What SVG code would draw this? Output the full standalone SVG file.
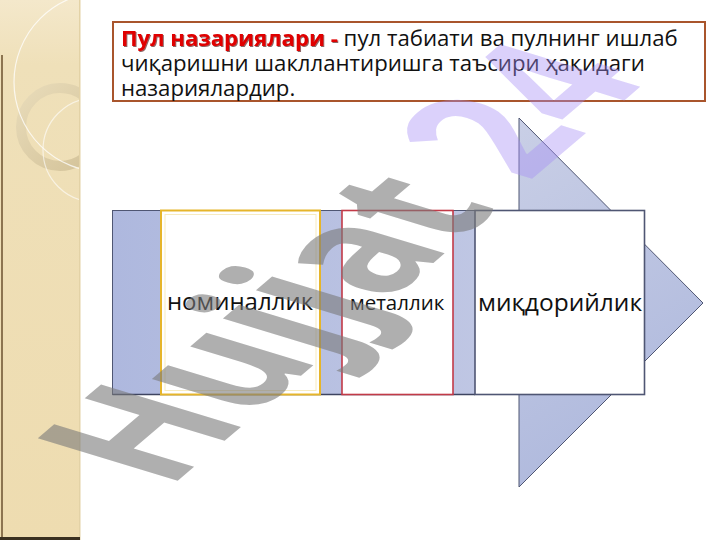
<svg xmlns="http://www.w3.org/2000/svg" width="720" height="540" viewBox="0 0 720 540">
<defs>
<style>
.t{font-family:"Open Sans","Noto Sans","DejaVu Sans",sans-serif;fill:#111}
.lbl{font-family:"Open Sans","Noto Sans","DejaVu Sans",sans-serif;fill:#111;text-anchor:middle}
.wm{font-family:"Open Sans","DejaVu Sans",sans-serif;font-weight:bold;font-size:100px}
</style>
<linearGradient id="strip" x1="0" y1="0" x2="0" y2="1">
<stop offset="0" stop-color="#F4E8CB"/><stop offset="0.12" stop-color="#EFE0B9"/><stop offset="1" stop-color="#EEDCB0"/>
</linearGradient>
<linearGradient id="ring" x1="0" y1="0" x2="1" y2="1">
<stop offset="0" stop-color="#E8DBB9"/><stop offset="1" stop-color="#D3C298"/>
</linearGradient>
<linearGradient id="band" x1="0" y1="0" x2="1" y2="0">
<stop offset="0" stop-color="#AEB8DE"/><stop offset="1" stop-color="#C7CDE6"/>
</linearGradient>
<linearGradient id="tri" x1="0" y1="0" x2="0.3" y2="1">
<stop offset="0" stop-color="#C9CFE6"/><stop offset="1" stop-color="#AFB9DD"/>
</linearGradient>
<clipPath id="stripClip"><rect x="0" y="0" width="80" height="540"/></clipPath>
<filter id="sh" x="-5%" y="-20%" width="110%" height="140%">
<feDropShadow dx="1" dy="1" stdDeviation="0.4" flood-color="#400000" flood-opacity="0.6"/>
</filter>
</defs>

<rect width="720" height="540" fill="#FFFFFF"/>

<g id="sidebar">
<rect x="0" y="0" width="80" height="540" fill="url(#strip)"/>
<g clip-path="url(#stripClip)">
<circle cx="60" cy="127" r="39" fill="none" stroke="url(#ring)" stroke-width="10"/>
<circle cx="104" cy="82" r="90" fill="none" stroke="#FFFFFF" stroke-width="1.2" opacity="0.75"/>
<circle cx="95" cy="150" r="52" fill="none" stroke="#FFFFFF" stroke-width="1.2" opacity="0.6"/>
</g>
<rect x="1" y="55" width="2" height="485" fill="#8C7450"/>
<rect x="79" y="0" width="1.5" height="540" fill="#E3D2A6"/>
<rect x="0" y="537" width="80" height="3" fill="#3A3020"/>
</g>

<g id="title">
<rect x="113" y="22" width="592" height="79" fill="#FFFFFF" stroke="#A9552C" stroke-width="2"/>
<text class="t" font-size="22.2" x="121" y="46"><tspan font-weight="bold" fill="#E00000" filter="url(#sh)">Пул назариялари -</tspan> пул табиати ва пулнинг ишлаб</text>
<text class="t" font-size="22.2" x="121" y="71">чиқаришни шакллантиришга таъсири ҳақидаги</text>
<text class="t" font-size="22.2" x="121" y="96">назариялардир.</text>
</g>

<g id="arrow">
<polygon points="519,118 703,303 519,487" fill="url(#tri)" stroke="#4F5673" stroke-width="1"/>
<rect x="112.5" y="210.5" width="532" height="184" fill="url(#band)" stroke="#4F5673" stroke-width="1"/>
<line x1="112.5" y1="394.5" x2="475" y2="394.5" stroke="#3E4460" stroke-width="1.5"/>
</g>

<g id="node-nominallik">
<rect x="161" y="210.5" width="159" height="184" fill="#FFFFFF" stroke="#E6B52A" stroke-width="2"/>
<rect x="165" y="214.5" width="151" height="176" fill="none" stroke="#F7EBC0" stroke-width="1"/>
<text class="lbl" font-size="24" x="240" y="310">номиналлик</text>
</g>

<g id="node-metallik">
<rect x="342" y="210.5" width="111" height="184" fill="#FFFFFF" stroke="#C23A48" stroke-width="1.6"/>
<text class="lbl" font-size="20.5" x="397" y="310">металлик</text>
</g>

<g id="node-miqdoriylik">
<rect x="475" y="210.5" width="169.5" height="184" fill="#FFFFFF" stroke="#4F5673" stroke-width="1.6"/>
<text class="lbl" font-size="24.5" x="560" y="311">миқдорийлик</text>
</g>

<g id="connectors"/>

<g id="watermark" transform="matrix(1.08,-0.92,1.96,0.595,168,489)">
<text class="wm" x="0" y="0"><tspan fill="#7A7A7A" fill-opacity="0.6">Hujjat</tspan><tspan fill="#A58CF5" fill-opacity="0.4"> 24</tspan></text>
</g>
</svg>
